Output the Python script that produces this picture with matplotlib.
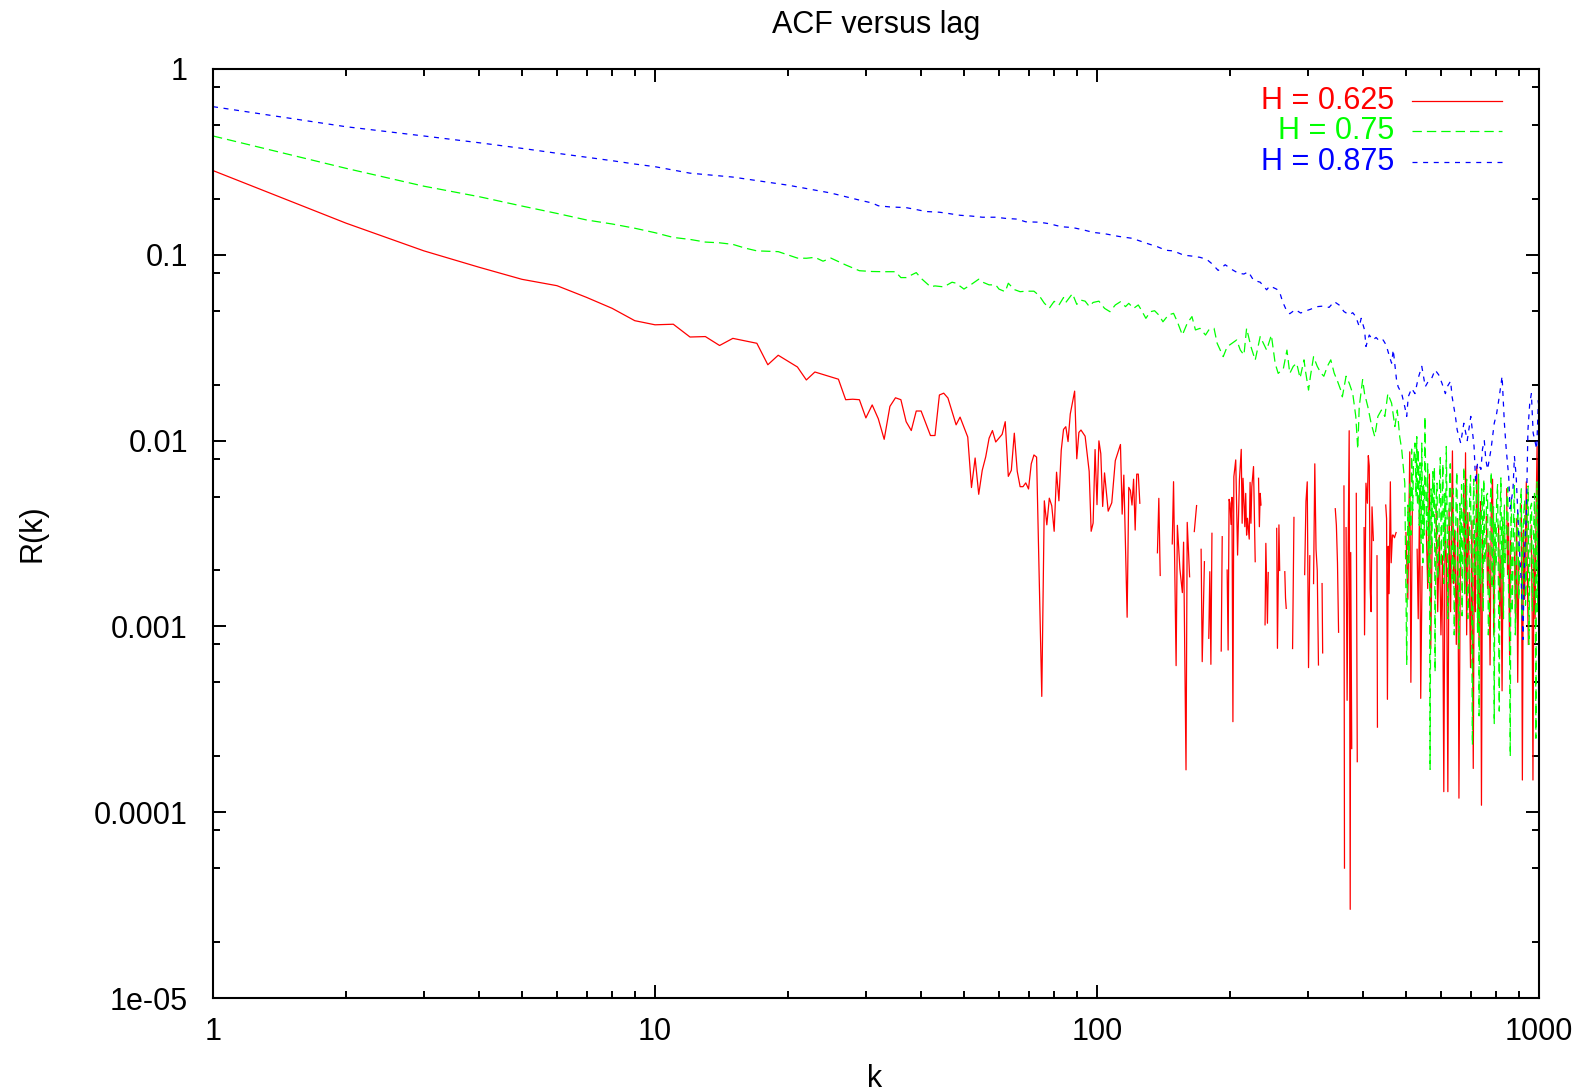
import numpy as np
import matplotlib
matplotlib.use("Agg")
import matplotlib.pyplot as plt
from matplotlib.ticker import FixedLocator, FixedFormatter, LogLocator, NullFormatter

nan = np.nan

# ---------------- data ----------------
red_k = [1, 2, 3, 4, 5, 6, 7, 8, 9, 10, 11, 12, 13, 14, 15, 17, 18, 19, 21, 22, 23, 25, 26, 27, 28, 29,
         30, 31, 32, 33, 34, 35, 36, 37, 38, 39, 40, 42, 43, 44, 45, 46, 48, 49, 51, 52, 53, 54, 55, 56,
         57, 58, 59, 61, 62, 63, 64, 65, 66, 67, 68, 69, 70, 71, 72, 73, 75, 76, 77, 78, 79, 80, 81, 82,
         83, 84, 85, 86, 87, 89, 90, 91, 92, 94, 96, 97, 98, 99, 100, 101, 102, 103, 104, 106, 108, 110,
         113, 114, 115, 117, 118, 119, 120, 121, 122, 123, 124, 125, 126,
         137, 138, 139, 140, 148, 149, 151, 152, 154, 156, 157, 159, 160, 162, 163, 166, 168, 169,
         172, 173, 175, 176, 179, 180, 181, 182, 183, 191, 192, 193,
         197, 198, 199, 200, 201, 202, 203, 204, 206, 208, 210, 212, 213, 214, 216, 217, 218, 219, 221,
         222, 223, 224, 226, 228, 229, 232, 233, 234, 235, 236, 240, 241, 243, 244, 245,
         255, 256, 258, 259, 260, 266, 267, 268, 269, 277, 279, 280,
         295, 297, 299, 301, 303, 304, 309, 311, 313, 315, 317, 318, 323, 324, 325,
         346, 348, 350, 352, 353, 362, 363, 364, 366, 368, 370, 372, 374, 375, 377, 378, 386, 388, 389,
         402, 403, 406, 409, 411, 413, 415, 417, 419, 422, 423, 430, 431, 432,
         450, 452, 454, 456, 458, 461, 463, 466, 468, 471, 475, 476,
         500, 505, 510, 513, 517, 521, 530, 533, 537, 540, 544, 548, 556, 560, 565, 569, 573, 577,
         585, 590, 595, 600, 605, 609, 613, 618, 622, 626, 631, 637, 641, 645, 650, 655, 659, 664, 668,
         675, 679, 682, 686, 690, 695, 700, 705, 710, 714, 718, 723, 727, 732, 737, 741, 745, 750,
         760, 765, 770, 775, 780, 785, 790, 795, 800, 810, 815, 820, 825, 830, 835,
         845, 849, 853, 858, 862, 867, 880, 885, 890, 895, 900, 905,
         912, 917, 922, 928, 936, 941, 946, 950, 960, 965, 969, 974, 980, 985, 990, 995, 1000]
red_r = [0.284, 0.148, 0.105, 0.0857, 0.0738, 0.0682, 0.059, 0.0515, 0.0442, 0.042, 0.0423, 0.0361,
         0.0363, 0.0325, 0.0355, 0.0334, 0.0256, 0.0288, 0.0249, 0.0212, 0.0234, 0.022, 0.0214, 0.0166,
         0.0167, 0.0166, 0.01325, 0.01556, 0.01312, 0.01016, 0.01528, 0.017, 0.0166, 0.01264, 0.01133,
         0.01443, 0.01443, 0.01065, 0.01065, 0.0176, 0.018, 0.01695, 0.01216, 0.01338, 0.01045, 0.00559,
         0.00806, 0.00514, 0.00692, 0.00817, 0.0103, 0.01133, 0.00983, 0.0108, 0.01264, 0.00642, 0.00692,
         0.01096, 0.00683, 0.00565, 0.00565, 0.00592, 0.00549, 0.0075, 0.00837, 0.00815, 0.00042, 0.00474,
         0.00352, 0.0049, 0.00446, 0.00325, 0.00676, 0.00474, 0.00886, 0.01149, 0.01188, 0.00988, 0.0139,
         0.01846, 0.00798, 0.01107, 0.0114, 0.01056, 0.00683, 0.00325, 0.0036, 0.00895, 0.00452, 0.00997,
         0.0085, 0.00442, 0.0067, 0.00417, 0.00463, 0.0078, 0.00953, 0.00402, 0.00652, 0.00112, 0.0056,
         0.0054, 0.0045, 0.0062, 0.0033, 0.0066, 0.0066, 0.0046, nan,
         0.00249, 0.00489, 0.00188, nan, 0.00278, 0.00601, 0.000615, 0.0035, 0.00204, 0.00152, 0.00284,
         0.000169, 0.00363, 0.00185, nan, 0.00324, 0.00447, nan,
         0.0026, 0.000646, 0.00223, nan, 0.000863, 0.00197, 0.000625, 0.00317, nan, 0.000737, 0.00304, nan,
         0.00201, 0.000746, 0.00483, 0.0046, 0.00354, 0.00495, 0.000307, 0.0064, 0.00787, 0.00242, 0.00614,
         0.00897, 0.00359, 0.00627, 0.00344, 0.0052, 0.0031, 0.00382, 0.00295,
         0.00596, 0.00359, 0.00565, 0.00725, 0.00223, nan, 0.00627, 0.00344, 0.0052, 0.0045, nan,
         0.00102, 0.0028, 0.00104, 0.00195, nan,
         0.00337, 0.000762, 0.00352, 0.002, nan, 0.00197, 0.00142, 0.00125, nan, 0.00076, 0.00386, nan,
         0.0019, 0.0047, 0.006, 0.0006, 0.0024, nan, 0.0017, 0.0075, 0.0026, 0.002, 0.00062, nan,
         0.0017, 0.00072, nan,
         0.0043, 0.0035, 0.0022, 0.00093, nan, 0.0057, 0.00005, nan, 0.0034, 0.0004, 0.0025, 0.0113,
         0.00003, 0.0025, 0.00022, nan, 0.0052, 0.000187, nan,
         0.0034, 0.0009, 0.0059, 0.0046, 0.0083, 0.0073, 0.0016, 0.0012, 0.0044, 0.0029, nan, 0.0024,
         0.000287, nan,
         0.0045, 0.0038, 0.000405, 0.0027, 0.0015, 0.006, 0.0022, 0.0031, 0.0031, 0.003, 0.0032, nan,
         0.0032, 0.0014, 0.0087, 0.0005, 0.0045, nan, 0.0026, 0.0011, 0.0052, 0.00041, 0.0021, nan,
         0.0033, 0.0016, 0.0066, 0.00076, 0.0028, nan,
         0.0045, 0.0012, 0.0031, 0.0009, 0.0024, 0.000129, 0.0035, 0.0021, 0.000129, 0.0043, 0.0012,
         0.0088, 0.0017, 0.0033, 0.0008, 0.0038, 0.000119, 0.0027, nan,
         0.0055, 0.0015, 0.0086, 0.0009, 0.0041, 0.0021, 0.0006, 0.0037, 0.000172, 0.0029, 0.0012,
         0.0073, 0.0024, 0.0008, 0.0047, 0.000109, 0.0031, nan,
         0.0039, 0.0016, 0.0028, 0.00062, 0.0044, 0.0062, 0.0009, 0.0026, nan, 0.0035, 0.0011, 0.0024,
         0.00045, 0.0031, nan,
         0.0055, 0.0019, 0.0036, 0.0007, 0.0029, nan, 0.0025, 0.0011, 0.0038, 0.0005, 0.0021, nan,
         0.0045, 0.000149, 0.0033, 0.0014, 0.006, 0.0019, 0.0008, nan, 0.0035, 0.0012, 0.000149, 0.0026,
         0.0011, 0.0041, 0.0093, 0.0021, 0.0055]

green_k = [1, 2, 3, 4, 5, 6, 7, 8, 9, 10, 11, 12, 13, 14, 15, 16, 17, 19, 21, 22, 23, 24, 25, 27, 29, 31,
           33, 35, 36, 37, 39, 40, 42, 43, 45, 47, 48, 50, 52, 54, 55, 57, 59, 60, 62, 63, 65, 67, 69, 72,
           74, 76, 78, 80, 82, 84, 85, 88, 90, 92, 94, 96, 98, 101,
           104, 107, 110, 113, 116, 118, 121, 124, 126, 129, 132, 135, 138, 141, 145, 149, 152, 156, 160,
           164, 167, 171, 176, 179, 184, 187, 190, 193, 197, 202, 207, 211, 215, 218, 223, 228, 234, 238,
           242, 248, 253, 257, 264, 269, 273,
           278, 283, 288, 294, 296, 301, 304, 309, 315, 321, 326, 332, 338, 344, 350, 356, 359, 366, 372,
           379, 385, 389, 392, 399, 403, 410, 417, 425, 432, 440, 448, 455, 464, 472, 478, 484, 489, 493,
           497,
           502, 505, 508, 510, 513, 515, 518, 520, 524, 527, 529, 531, 533, 536, 538, 541, 543, 546, 548,
           550, 552, 555, 557, 560, 562, 565, 567, 570, 572, 575, 577, 580, 582, 585, 588, 590, 593, 596,
           598, 601, 603, 606, 609, 612, 614, 617, 620, 622, 625, 628, 630, 633, 636, 640, 643, 647, 650,
           652, 655, 659, 662, 665, 668, 670, 673, 676, 679, 682, 686, 690, 694, 697, 700, 704, 707, 710,
           712, 716, 719, 722, 726, 730, 732, 735, 738, 742, 745, 748, 750, 754, 758, 761, 765, 768, 772,
           776, 780, 783, 785, 789, 792, 795, 799, 802, 806, 810, 813, 817, 820, 824, 828, 831, 835, 838,
           842, 846, 850, 853, 857, 861, 864, 866, 870, 873, 877, 880, 884, 888, 892, 896, 900, 904, 908,
           912, 916, 920, 924, 928, 932, 936, 940, 945, 949, 953, 957, 962, 966, 970, 973, 977, 981, 984,
           987, 990, 993, 996, 1000]
green_r = [0.436, 0.292, 0.234, 0.2055, 0.183, 0.167, 0.154, 0.1465, 0.139, 0.1315, 0.124, 0.121, 0.1171,
           0.116, 0.1138, 0.1086, 0.105, 0.104, 0.096, 0.0958, 0.0969, 0.0924, 0.096, 0.0882, 0.0821,
           0.0813, 0.0811, 0.0811, 0.0754, 0.0754, 0.0802, 0.0747, 0.0673, 0.068, 0.0672, 0.0712, 0.0703,
           0.0654, 0.0694, 0.0739, 0.0714, 0.0689, 0.0689, 0.0654, 0.0633, 0.0703, 0.065, 0.0633, 0.0637,
           0.0637, 0.0603, 0.0549, 0.0516, 0.0562, 0.0536, 0.0589, 0.0554, 0.0618, 0.0541, 0.057, 0.0563,
           0.0528, 0.0554, 0.0563,
           0.0515, 0.0494, 0.0537, 0.0559, 0.0526, 0.0548, 0.0515, 0.0537, 0.0504, 0.0455, 0.0494, 0.05,
           0.0474, 0.0436, 0.0474, 0.0484, 0.0436, 0.037, 0.0428, 0.0465, 0.0394, 0.0402, 0.037, 0.0394,
           0.0402, 0.0334, 0.0307, 0.0283, 0.032, 0.0334, 0.0348, 0.0307, 0.0289, 0.0402, 0.032, 0.0271,
           0.0363, 0.0334, 0.0307, 0.037, 0.026, 0.023, 0.0244, 0.0307, 0.023,
           0.0251, 0.0261, 0.0217, 0.0272, 0.024, 0.0187, 0.0222, 0.0283, 0.0251, 0.0231, 0.0222, 0.0251,
           0.0272, 0.0231, 0.0209, 0.0187, 0.0172, 0.0222, 0.0204, 0.0179, 0.0135, 0.009, 0.0152, 0.0213,
           0.0179, 0.0152, 0.0124, 0.0105, 0.0135, 0.0146, 0.0135, 0.0179, 0.0159, 0.0119, 0.0146, 0.0105,
           0.009, 0.0073, 0.0059,
           0.00062, 0.0045, 0.0022, 0.0059, 0.0031, 0.009, 0.0042, 0.0076, 0.0097, 0.005, 0.0105, 0.0045,
           0.009, 0.0035, 0.0076, 0.0028, 0.0097, 0.0022, 0.0059, 0.0031, 0.0135, 0.0048, 0.0032, 0.0075,
           0.0017, 0.0042, 0.00017, 0.0055, 0.0026, 0.0068, 0.0039, 0.0072, 0.00057, 0.0048, 0.0059, 0.0018,
           0.0026, 0.0064, 0.0081, 0.0021, 0.0039, 0.0075, 0.0017, 0.0052, 0.0026, 0.0093, 0.0035, 0.0011,
           0.0032, 0.0062, 0.0075, 0.0028, 0.0017, 0.0055, 0.0009, 0.0026, 0.0058, 0.0068, 0.0021, 0.00076,
           0.0046, 0.0021, 0.0058, 0.00114, 0.0035, 0.0072, 0.0015, 0.0032, 0.0062, 0.0011, 0.0017, 0.0052,
           0.0065, 0.0012, 0.00023, 0.0045, 0.0062, 0.0019, 0.0026, 0.0058, 0.00093, 0.0066, 0.00033, 0.0041,
           0.0017, 0.0055, 0.0039, 0.0012, 0.0062, 0.0022, 0.0026, 0.0051, 0.0052, 0.0009, 0.00114, 0.0046,
           0.0068, 0.0016, 0.0021, 0.0044, 0.0003, 0.0037, 0.0021, 0.0049, 0.0058, 0.0013, 0.00035, 0.0042,
           0.0063, 0.0018, 0.0039, 0.0011, 0.0045, 0.0022, 0.0026, 0.0048, 0.0056, 0.0016, 0.00114, 0.0002,
           0.0038, 0.0049, 0.0012, 0.0021, 0.0044, 0.0058, 0.0009, 0.0017, 0.0036, 0.0042, 0.0014, 0.0026,
           0.0047, 0.0055, 0.0011, 0.0032, 0.0041, 0.0048, 0.0013, 0.0017, 0.0039, 0.0057, 0.0008, 0.0021,
           0.0044, 0.0046, 0.0012, 0.0017, 0.0035, 0.0052, 0.0016, 0.00025, 0.0038, 0.006, 0.0012, 0.0026,
           0.009]

blue_k = [1, 2, 3, 4, 5, 6, 7, 8, 9, 10, 12, 15, 20, 25, 29, 31, 32, 34, 37, 39, 41, 44, 46, 49, 52, 55,
          59, 62, 66, 69, 74, 78, 83, 88, 93, 98, 104, 112, 120, 131, 137, 143, 149, 157, 164, 171, 177,
          182, 188, 195, 202, 209, 215, 220, 226, 234, 242, 246, 255, 259, 263, 269, 273, 281, 289, 294,
          304, 315, 326, 335, 344, 353, 362, 372, 379, 385, 392, 396, 403, 406, 413, 421, 428, 436, 444,
          451, 459, 464, 468, 476, 480, 489, 497, 502, 506, 515, 524, 533, 543, 553, 562, 572, 582, 593,
          603, 614, 620, 631, 636, 647, 653, 665, 676, 688, 701, 713, 719, 726, 739, 745, 752, 758, 765,
          779, 792, 802, 813, 825, 835, 843, 854, 860, 873, 880, 888, 901, 912, 920, 928, 936, 944, 953,
          961, 970, 988, 997, 1000]
blue_r = [0.627, 0.489, 0.436, 0.401, 0.374, 0.352, 0.335, 0.321, 0.308, 0.298, 0.275, 0.262, 0.237,
          0.215, 0.197, 0.19, 0.1836, 0.181, 0.1794, 0.1752, 0.171, 0.1695, 0.167, 0.1632, 0.1616, 0.1593,
          0.1593, 0.1571, 0.1556, 0.1505, 0.1498, 0.147, 0.1416, 0.1402, 0.1363, 0.132, 0.1299, 0.1256,
          0.1227, 0.1143, 0.1105, 0.1058, 0.1049, 0.0996, 0.0984, 0.0969, 0.0946, 0.0895, 0.0824, 0.0884,
          0.0833, 0.0795, 0.0788, 0.081, 0.073, 0.0712, 0.0648, 0.068, 0.0653, 0.0629, 0.0559, 0.0495,
          0.0482, 0.0507, 0.0486, 0.0495, 0.0509, 0.0526, 0.053, 0.0521, 0.056, 0.0537, 0.0495, 0.0475,
          0.0488, 0.0465, 0.0411, 0.0455, 0.0394, 0.0321, 0.037, 0.0348, 0.0359, 0.0342, 0.0348, 0.0327,
          0.0283, 0.0261, 0.0308, 0.0213, 0.0195, 0.0179, 0.0152, 0.0135, 0.0172, 0.0191, 0.0179, 0.0217,
          0.0251, 0.0195, 0.0209, 0.0217, 0.024, 0.0226, 0.0204, 0.0179, 0.0195, 0.0209, 0.0172, 0.0135,
          0.0114, 0.0097, 0.0124, 0.01, 0.0135, 0.0093, 0.0059, 0.0076, 0.007, 0.009, 0.01, 0.0079, 0.007,
          0.009, 0.0124, 0.014, 0.0172, 0.0222, 0.0124, 0.009, 0.0064, 0.0043, 0.0054, 0.0082, 0.0064,
          0.0029, 0.0017, 0.00085, 0.0026, 0.0039, 0.0114, 0.0159, 0.0179, 0.011, 0.009, 0.0165, 0.012]

series_labels = ["H = 0.625", "H = 0.75", "H = 0.875"]
series_colors = ["#ff0000", "#00ff00", "#0000ff"]

x_ticks = [1, 10, 100, 1000]
x_tick_labels = ["1", "10", "100", "1000"]
y_ticks = [1e-5, 1e-4, 1e-3, 1e-2, 1e-1, 1]
y_tick_labels = ["1e-05", "0.0001", "0.001", "0.01", "0.1", "1"]

title_text = "ACF versus lag"
x_label = "k"
y_label = "R(k)"

# ---------------- figure ----------------
plt.rcParams['font.family'] = ['Liberation Sans', 'DejaVu Sans']
FS = 22
W, H = 1584, 1092
fig = plt.figure(figsize=(W / 100, H / 100), dpi=100)
ax = fig.add_axes([213 / W, 1 - 998 / H, (1539 - 213) / W, (998 - 69) / H])

ax.set_xscale('log')
ax.set_yscale('log', nonpositive='mask')
ax.set_xlim(1, 1000)
ax.set_ylim(1e-5, 1)

lw = 0.9
styles = ['-', (0, (7.5, 4.0)), (0, (4.0, 4.5))]
series = [(red_k, red_r), (green_k, green_r), (blue_k, blue_r)]
for (kk, rr), col, ls in zip(series, series_colors, styles):
    ax.plot(np.array(kk, float), np.array(rr, float), color=col, lw=lw, linestyle=ls)

# ticks
ax.xaxis.set_major_locator(FixedLocator(x_ticks))
ax.xaxis.set_major_formatter(FixedFormatter(x_tick_labels))
ax.xaxis.set_minor_locator(LogLocator(base=10, subs=np.arange(2, 10), numticks=20))
ax.xaxis.set_minor_formatter(NullFormatter())
ax.yaxis.set_major_locator(FixedLocator(y_ticks))
ax.yaxis.set_major_formatter(FixedFormatter(y_tick_labels))
ax.yaxis.set_minor_locator(LogLocator(base=10, subs=[2, 5, 8], numticks=20))
ax.yaxis.set_minor_formatter(NullFormatter())

ax.tick_params(which='both', direction='in', top=True, right=True, width=1.4, color='black')
ax.tick_params(which='major', length=9.4)
ax.tick_params(which='minor', length=4.7)
ax.tick_params(axis='x', which='major', pad=14, labelsize=FS)
ax.tick_params(axis='y', which='major', pad=18, labelsize=FS)
for s in ax.spines.values():
    s.set_linewidth(1.5)

# title and axis labels
fig.text(876 / W, 1 - 25 / H, title_text, ha='center', va='center', fontsize=FS)
fig.text(875 / W, 1 - 1087 / H, x_label, ha='center', va='baseline', fontsize=FS)
fig.text(32 / W, 1 - 533.5 / H, y_label, ha='center', va='center', rotation=90, fontsize=FS)

# legend (gnuplot style: right-aligned coloured text, sample to the right)
leg_y = [0.9655, 0.9332, 0.8998]
for lab, col, ls, yy in zip(series_labels, series_colors, styles, leg_y):
    ax.text(0.8906, yy, lab, transform=ax.transAxes, ha='right', va='center', color=col, fontsize=FS)
    ax.plot([0.9042, 0.9721], [yy, yy], transform=ax.transAxes, color=col, lw=lw, linestyle=ls,
            clip_on=False)

fig.savefig("out.png", dpi=100)
